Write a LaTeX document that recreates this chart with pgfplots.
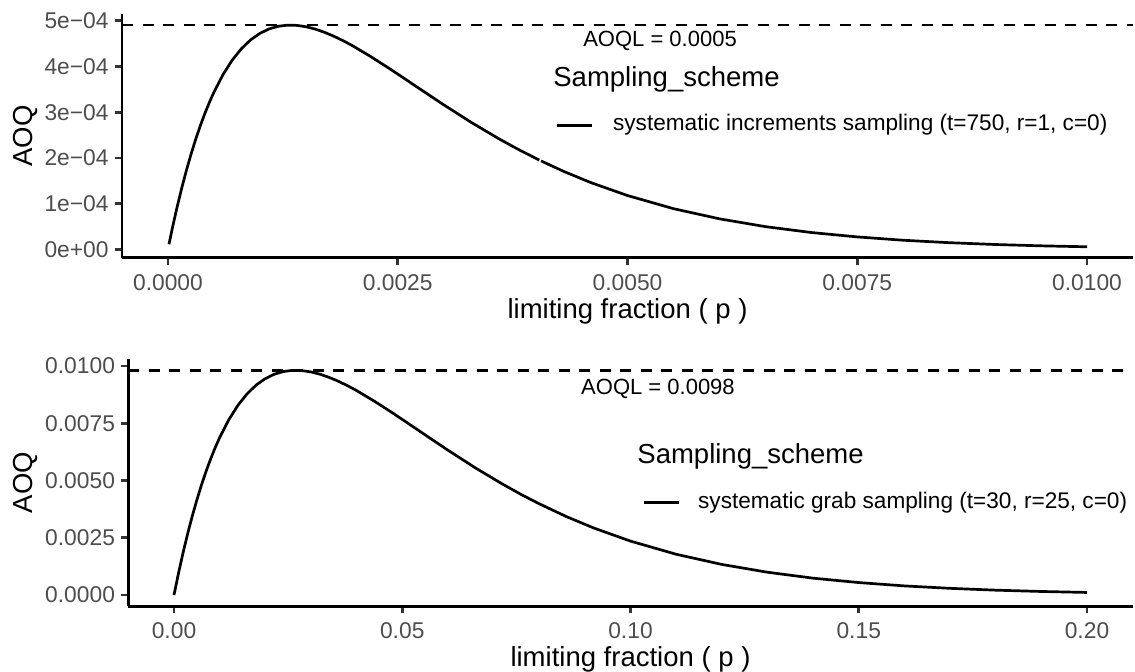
\documentclass[border=0pt]{standalone}
\usepackage{fontspec}
\setmainfont{Liberation Sans}
\usepackage{pgfplots}
\usepackage{pgfplotstable}
\pgfplotsset{compat=1.18}

\definecolor{tickgrey}{HTML}{4D4D4D}
\definecolor{tickmark}{HTML}{333333}

% AOQ curve, systematic increments sampling (two pieces)
\pgfplotstableread{
p        aoq
0.000011 1.09e-5
0.00005  4.816e-5
0.0001   9.277e-5
0.00015  1.3404e-4
0.0002   1.7214e-4
0.00025  2.0725e-4
0.0003   2.3955e-4
0.00035  2.692e-4
0.0004   2.963e-4
0.00045  3.211e-4
0.0005   3.4364e-4
0.0006   3.8256e-4
0.0007   4.141e-4
0.0008   4.3904e-4
0.0009   4.583e-4
0.001    4.724e-4
0.0011   4.821e-4
0.0012   4.879e-4
0.0013   4.904e-4
0.0014   4.899e-4
0.0015   4.870e-4
0.0016   4.819e-4
0.0017   4.750e-4
0.0018   4.666e-4
0.0019   4.570e-4
0.002    4.463e-4
0.0022   4.224e-4
0.0024   3.967e-4
0.0026   3.699e-4
0.0028   3.429e-4
0.003    3.162e-4
0.0033   2.776e-4
0.0036   2.419e-4
0.0038   2.198e-4
0.00404  1.952e-4
}\incrA

\pgfplotstableread{
p        aoq
0.00406  1.933e-4
0.0043   1.7095e-4
0.0046   1.4603e-4
0.005    1.176e-4
0.0055   8.89e-5
0.006    6.67e-5
0.0065   4.96e-5
0.007    3.67e-5
0.0075   2.71e-5
0.008    1.98e-5
0.0085   1.45e-5
0.009    1.05e-5
0.0095   7.6e-6
0.01     5.5e-6
}\incrB

% AOQ curve, systematic grab sampling
\pgfplotstableread{
p      aoq
0      0
0.001  9.632e-4
0.002  1.8554e-3
0.003  2.6808e-3
0.004  3.4428e-3
0.005  4.145e-3
0.006  4.791e-3
0.007  5.384e-3
0.008  5.926e-3
0.009  6.422e-3
0.010  6.873e-3
0.012  7.651e-3
0.014  8.282e-3
0.016  8.781e-3
0.018  9.166e-3
0.020  9.448e-3
0.022  9.642e-3
0.024  9.758e-3
0.026  9.808e-3
0.028  9.798e-3
0.030  9.740e-3
0.032  9.638e-3
0.034  9.500e-3
0.036  9.332e-3
0.038  9.140e-3
0.040  8.926e-3
0.044  8.448e-3
0.048  7.934e-3
0.052  7.398e-3
0.056  6.858e-3
0.060  6.324e-3
0.066  5.552e-3
0.072  4.838e-3
0.076  4.394e-3
0.080  3.982e-3
0.086  3.419e-3
0.092  2.921e-3
0.100  2.352e-3
0.110  1.778e-3
0.120  1.334e-3
0.130  9.93e-4
0.140  7.34e-4
0.150  5.42e-4
0.160  3.96e-4
0.170  2.90e-4
0.180  2.10e-4
0.190  1.53e-4
0.200  1.10e-4
}\grab

\newcommand\titlefont{\fontsize{13.75bp}{16bp}\selectfont}

\pgfplotsset{
  aoqpanel/.style={
    scale only axis, anchor=south west,
    axis x line*=bottom, axis y line*=left,
    axis line style={line width=1.4bp, black},
    tick align=outside, major tick length=3.5bp,
    tick style={line width=1.35bp, tickmark},
    tick label style={font=\fontsize{11.4bp}{13bp}\selectfont, text=tickgrey, inner sep=0pt},
    xticklabel style={anchor=north, yshift=-4.4bp},
    yticklabel style={anchor=east, xshift=-3bp},
    scaled x ticks=false, scaled y ticks=false,
    legend style={draw=none, fill=none, inner sep=0pt, column sep=0pt, row sep=0pt,
      anchor=south west, cells={anchor=base west},
      nodes={inner sep=0pt, text depth=0pt, font=\fontsize{11.3bp}{13bp}\selectfont}},
    clip=false,
  },
  curve/.style={black, line width=1.35bp, line join=round},
  aoql/.style={black, line width=1.35bp, dash pattern=on 5.5bp off 4.75bp},
}

\begin{document}
\begin{tikzpicture}
\useasboundingbox (0,0) rectangle (567.5bp,336bp);

% upper panel
\begin{axis}[aoqpanel,
  at={(61bp,207.05bp)}, width=505.5bp, height=121.95bp,
  xmin=-0.0005, xmax=0.0105, ymin=-1.88e-5, ymax=5.148e-4,
  xtick={0,0.0025,0.005,0.0075,0.01},
  xticklabels={0.0000,0.0025,0.0050,0.0075,0.0100},
  ytick={0,1e-4,2e-4,3e-4,4e-4,5e-4},
  yticklabels={0e+00,1e−04,2e−04,3e−04,4e−04,5e−04},
  xlabel={limiting fraction ( p )}, ylabel={AOQ},
  every axis x label/.style={at={(axis description cs:0.5,-0.2505)}, anchor=base, inner sep=0pt, font=\titlefont},
  every axis y label/.style={at={(axis description cs:-0.0887,0.5)}, rotate=90, anchor=base, inner sep=0pt, font=\titlefont},
  legend style={at={(axis description cs:0.4283,0.5162)}},
  legend image code/.code={\draw[#1] (0bp,2.5bp) -- (17.5bp,2.5bp); \path (27.5bp,0bp);},
]
\addplot[aoql, forget plot] coordinates {(-0.0005,4.905e-4) (0.0105,4.905e-4)};
\addplot[curve] table[x=p, y=aoq] {\incrA};
\addlegendentry{systematic increments sampling (t=750, r=1, c=0)}
\addplot[curve, forget plot] table[x=p, y=aoq] {\incrB};
\node[anchor=base, font=\fontsize{11bp}{13bp}\selectfont] at (axis cs:0.005354,4.427e-4) {AOQL = 0.0005};
\node[anchor=base west, font=\titlefont, inner sep=0pt] at (axis description cs:0.4263,0.7007) {Sampling\_scheme};
\end{axis}

% lower panel
\begin{axis}[aoqpanel,
  at={(64.175bp,32.9bp)}, width=502.15bp, height=123.55bp,
  xmin=-0.01, xmax=0.21, ymin=-0.00049, ymax=0.0103,
  xtick={0,0.05,0.1,0.15,0.2},
  xticklabels={0.00,0.05,0.10,0.15,0.20},
  ytick={0,0.0025,0.005,0.0075,0.01},
  yticklabels={0.0000,0.0025,0.0050,0.0075,0.0100},
  xlabel={limiting fraction ( p )}, ylabel={AOQ},
  every axis x label/.style={at={(axis description cs:0.5,-0.2420)}, anchor=base, inner sep=0pt, font=\titlefont},
  every axis y label/.style={at={(axis description cs:-0.0956,0.5)}, rotate=90, anchor=base, inner sep=0pt, font=\titlefont},
  legend style={at={(axis description cs:0.5115,0.3893)}},
  legend image code/.code={\draw[#1] (0bp,3bp) -- (17.5bp,3bp); \path (26.5bp,0bp);},
]
\addplot[aoql, forget plot] coordinates {(-0.01,0.0098) (0.21,0.0098)};
\addplot[curve] table[x=p, y=aoq] {\grab};
\addlegendentry{systematic grab sampling (t=30, r=25, c=0)}
\node[anchor=base, font=\fontsize{11bp}{13bp}\selectfont] at (axis cs:0.10602,0.008734) {AOQL = 0.0098};
\node[anchor=base west, font=\titlefont, inner sep=0pt] at (axis description cs:0.5065,0.5795) {Sampling\_scheme};
\end{axis}
\end{tikzpicture}
\end{document}
